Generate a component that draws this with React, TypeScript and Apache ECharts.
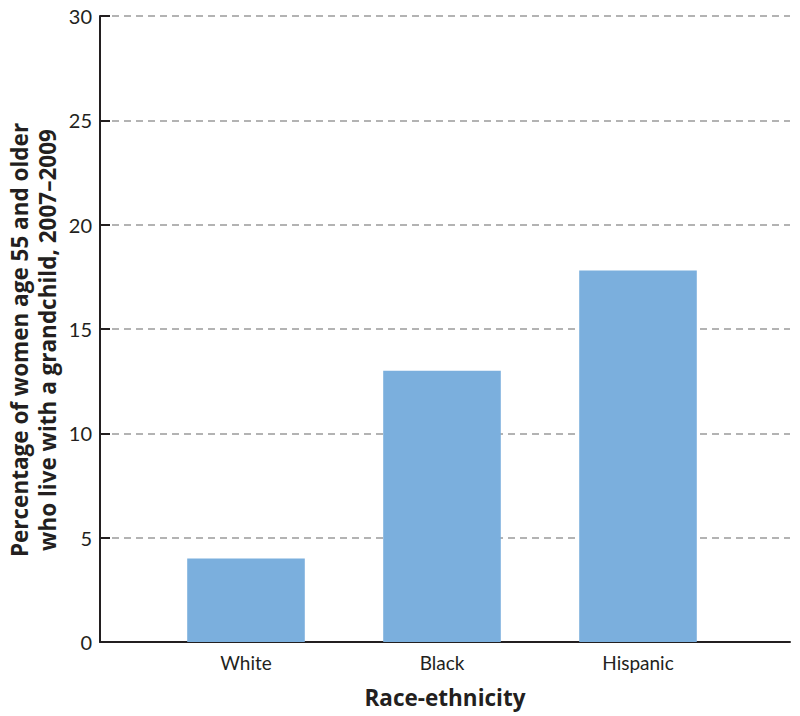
import React, { useEffect, useRef } from "react";
import * as echarts from "echarts";

const categories = ["White", "Black", "Hispanic"];
const values = [4, 13, 17.8];
const yTicks = [0, 5, 10, 15, 20, 25, 30];
const yTitle = "Percentage of women age 55 and older\nwho live with a grandchild, 2007–2009";
const xTitle = "Race-ethnicity";

const FONT = "Lato, 'Open Sans', sans-serif";
const TITLE_FONT = "'Open Sans', sans-serif";
const TEXT = "#231f20";

export default function App() {
  const ref = useRef<HTMLDivElement>(null);
  useEffect(() => {
    if (!ref.current) return;
    const chart = echarts.init(ref.current, undefined, { renderer: "svg" });
    const top = 16;
    const bottom = 74;
    chart.setOption({
      animation: false,
      textStyle: { fontFamily: FONT },
      grid: [
        { left: 100, right: 10, top, bottom, containLabel: false },
        { left: 148, width: 588, top, bottom, containLabel: false },
      ],
      xAxis: [
        {
          gridIndex: 0,
          type: "value",
          min: 0,
          max: 1,
          axisLine: { show: true, lineStyle: { color: TEXT, width: 2 } },
          axisTick: { show: false },
          axisLabel: { show: false },
          splitLine: { show: false },
          name: xTitle,
          nameLocation: "middle",
          nameGap: 44,
          nameTextStyle: { fontFamily: TITLE_FONT, fontSize: 22.5, fontWeight: "bold", color: TEXT },
        },
        {
          gridIndex: 1,
          type: "category",
          data: categories,
          axisLine: { show: false },
          axisTick: { show: false },
          axisLabel: { fontFamily: FONT, fontSize: 19, color: TEXT, margin: 11 },
        },
      ],
      yAxis: [
        {
          gridIndex: 0,
          type: "value",
          min: yTicks[0],
          max: yTicks[yTicks.length - 1],
          interval: 5,
          axisLine: { show: true, lineStyle: { color: TEXT, width: 2 } },
          axisTick: { show: true, inside: true, length: 10, lineStyle: { color: TEXT, width: 2 } },
          axisLabel: { fontFamily: FONT, fontSize: 20, color: TEXT, margin: 8 },
          splitLine: {
            show: true,
            lineStyle: { color: "#9a9a9a", width: 1.5, type: [7, 5] },
          },
        },
        {
          gridIndex: 1,
          type: "value",
          min: yTicks[0],
          max: yTicks[yTicks.length - 1],
          interval: 5,
          show: false,
          splitLine: { show: false },
        },
      ],
      series: [
        {
          type: "bar",
          xAxisIndex: 1,
          yAxisIndex: 1,
          data: values,
          barWidth: "60%",
          itemStyle: { color: "#7bafdd" },
          z: 3,
        },
      ],
      graphic: [
        {
          type: "text",
          x: 33,
          y: 340,
          rotation: Math.PI / 2,
          style: {
            text: yTitle,
            fontFamily: TITLE_FONT,
            fontSize: 22.5,
            fontWeight: "bold",
            fill: TEXT,
            align: "center",
            verticalAlign: "middle",
            lineHeight: 28,
          },
        },
      ],
    });
    return () => chart.dispose();
  }, []);
  return <div ref={ref} style={{ width: 800, height: 716, position: "absolute", left: 0, top: 0 }} />;
}
